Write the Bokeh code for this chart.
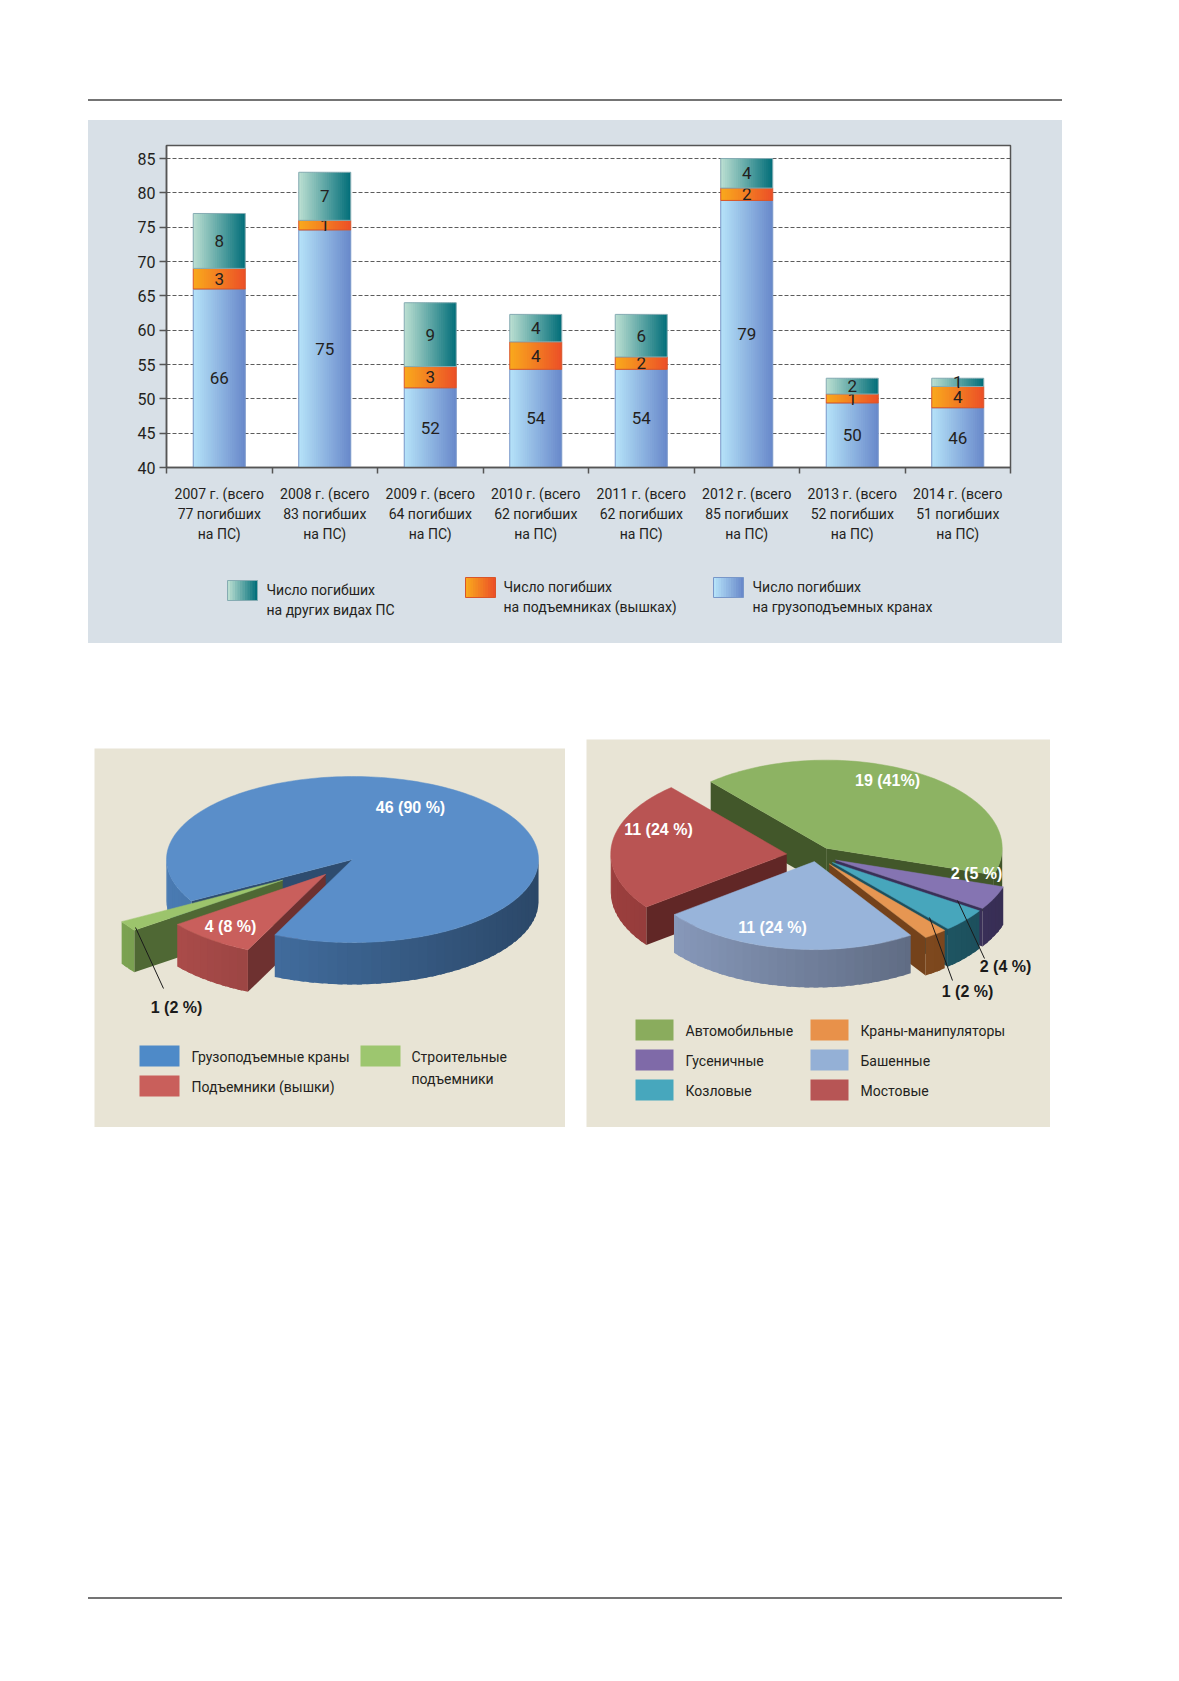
import numpy as np
from bokeh.plotting import figure
from bokeh.models import Range1d, FixedTicker, Div, Spacer
from bokeh.layouts import column, row
from bokeh.core.properties import value
from bokeh.embed import file_html
from bokeh.resources import INLINE

# ---------------- data: bar chart ----------------
years = ["2007", "2008", "2009", "2010", "2011", "2012", "2013", "2014"]
totals = [77, 83, 64, 62, 62, 85, 52, 51]
category_labels = [
    "2007 г. (всего\n77 погибших\nна ПС)",
    "2008 г. (всего\n83 погибших\nна ПС)",
    "2009 г. (всего\n64 погибших\nна ПС)",
    "2010 г. (всего\n62 погибших\nна ПС)",
    "2011 г. (всего\n62 погибших\nна ПС)",
    "2012 г. (всего\n85 погибших\nна ПС)",
    "2013 г. (всего\n52 погибших\nна ПС)",
    "2014 г. (всего\n51 погибших\nна ПС)",
]
# segment heights as drawn in the picture
cranes = [66.0, 74.6, 51.6, 54.3, 54.3, 78.9, 49.4, 48.7]
lifts = [3.0, 1.4, 3.1, 4.0, 1.8, 1.8, 1.3, 3.1]
other = [8.0, 7.0, 9.3, 4.0, 6.2, 4.3, 2.3, 1.2]
# numbers printed on the segments
cranes_text = ["66", "75", "52", "54", "54", "79", "50", "46"]
lifts_text = ["3", "1", "3", "4", "2", "2", "1", "4"]
other_text = ["8", "7", "9", "4", "6", "4", "2", "1"]
y_ticks = [40, 45, 50, 55, 60, 65, 70, 75, 80, 85]
bar_legend = [
    ["Число погибших", "на других видах ПС"],
    ["Число погибших", "на подъемниках (вышках)"],
    ["Число погибших", "на грузоподъемных кранах"],
]

# ---------------- data: pies ----------------
pie1_names = ["Грузоподъемные краны", "Подъемники (вышки)", "Строительные подъемники"]
pie1_values = [46, 4, 1]
pie1_text = ["46 (90 %)", "4 (8 %)", "1 (2 %)"]

pie2_names = ["Автомобильные", "Гусеничные", "Козловые",
              "Краны-манипуляторы", "Башенные", "Мостовые"]
pie2_values = [19, 2, 2, 1, 11, 11]
pie2_text = ["19 (41%)", "2 (5 %)", "2 (4 %)", "1 (2 %)", "11 (24 %)", "11 (24 %)"]

# ---------------- styles ----------------
NARROW = "Roboto"
BOLD = "Liberation Sans"
TXT = "#231f20"
BAR_PANEL = "#d8e0e7"
PIE_PANEL = "#e8e4d5"


def hex2rgb(h):
    return np.array([int(h[i:i + 2], 16) for i in (1, 3, 5)], float)


def rgb2hex(c):
    c = np.clip(np.round(c), 0, 255).astype(int)
    return "#%02x%02x%02x" % tuple(c)


def mix(a, b, t):
    return rgb2hex(hex2rgb(a) * (1 - t) + hex2rgb(b) * t)


def shade(h, f):
    return rgb2hex(hex2rgb(h) * f)


def gradient_quads(p, lefts, rights, bottoms, tops, c_left, c_right, n=24):
    L, R, B, T, C = [], [], [], [], []
    for l, r, b, t in zip(lefts, rights, bottoms, tops):
        w = (r - l) / n
        for j in range(n):
            L.append(l + j * w)
            R.append(l + (j + 1.6) * w if j < n - 1 else r)
            B.append(b)
            T.append(t)
            C.append(mix(c_left, c_right, j / (n - 1)))
    p.quad(left=L, right=R, bottom=B, top=T, fill_color=C, line_color=None)


# ---------------- bar chart ----------------
N = len(years)
xc = np.arange(N) + 0.5
BW = 0.493
Y0, Y1 = 40, 86.9
ML, MR = 78, 52

bar = figure(width=974, height=440, x_range=Range1d(0, N), y_range=Range1d(Y0, Y1),
             output_backend="svg", toolbar_location=None,
             min_border_left=ML, min_border_right=MR, min_border_top=25, min_border_bottom=93)
bar.background_fill_color = "white"
bar.border_fill_color = BAR_PANEL
bar.outline_line_color = "#555555"
bar.outline_line_width = 1.5
bar.xgrid.visible = False
bar.ygrid.ticker = FixedTicker(ticks=y_ticks)
bar.ygrid.grid_line_color = "#4a4a4a"
bar.ygrid.grid_line_dash = "4 2"
bar.ygrid.grid_line_width = 0.9

bar.yaxis.ticker = FixedTicker(ticks=y_ticks)
bar.yaxis.major_tick_out = 7
bar.yaxis.major_tick_in = 0
bar.yaxis.major_label_standoff = 4
bar.yaxis.major_label_text_font = NARROW
bar.yaxis.major_label_text_font_size = "16px"
bar.yaxis.major_label_text_color = TXT

bar.xaxis.ticker = FixedTicker(ticks=list(xc), minor_ticks=list(range(N + 1)))
bar.xaxis.major_tick_out = 0
bar.xaxis.major_tick_in = 0
bar.xaxis.minor_tick_out = 6
bar.xaxis.minor_tick_in = 0
bar.xaxis.major_label_overrides = {float(x): lab for x, lab in zip(xc, category_labels)}
bar.xaxis.major_label_standoff = 12
bar.xaxis.major_label_text_font = NARROW
bar.xaxis.major_label_text_font_size = "14px"
bar.xaxis.major_label_text_line_height = 1.28
bar.xaxis.major_label_text_color = TXT
for ax in (bar.xaxis, bar.yaxis):
    ax.axis_line_color = "#555555"
    ax.axis_line_width = 1.5
    ax.major_tick_line_color = "#555555"
    ax.major_tick_line_width = 1.5
    ax.minor_tick_line_color = "#555555"
    ax.minor_tick_line_width = 1.5
bar.yaxis.minor_tick_line_color = None

cr = np.array(cranes)
li = np.array(lifts)
ot = np.array(other)
segs = [
    (np.zeros(N), cr, "#b4e1f8", "#6a8acb", "#7897c9", cranes_text),
    (cr, cr + li, "#f9a81d", "#ec5127", "#d9552a", lifts_text),
    (cr + li, cr + li + ot, "#b8ddd0", "#05707b", "#86acb3", other_text),
]
for bot, top, c1, c2, edge, txt in segs:
    gradient_quads(bar, xc - BW / 2, xc + BW / 2, bot, top, c1, c2)
    bar.quad(left=xc - BW / 2, right=xc + BW / 2, bottom=bot, top=top,
             fill_alpha=0, line_color=edge, line_width=1)
    ymid = (np.maximum(bot, Y0) + top) / 2
    bar.text(x=xc, y=ymid, text=txt, text_font=value(NARROW), text_font_size="17px",
             text_align="center", text_baseline="middle", text_color=TXT)

# ---------------- bar legend strip ----------------
LH = 83
leg = figure(width=974, height=LH, x_range=Range1d(0, 974), y_range=Range1d(LH, 0),
             output_backend="svg", toolbar_location=None, x_axis_type=None, y_axis_type=None,
             min_border=0, min_border_left=0, min_border_right=0,
             min_border_top=0, min_border_bottom=0)
leg.grid.visible = False
leg.outline_line_color = None
leg.background_fill_color = BAR_PANEL
leg.border_fill_color = BAR_PANEL
sw_x = [139, 377, 625]
sw_y = [20, 17, 17]
txt_x = [178, 415, 664]
txt_y = [29, 26, 26]
grads = [("#b8ddd0", "#05707b", "#86acb3"), ("#f9a81d", "#ec5127", "#d9552a"),
         ("#b4e1f8", "#6a8acb", "#7897c9")]
for k in range(3):
    c1, c2, edge = grads[k]
    gradient_quads(leg, [sw_x[k]], [sw_x[k] + 30], [sw_y[k]], [sw_y[k] + 20], c1, c2, n=12)
    leg.quad(left=[sw_x[k]], right=[sw_x[k] + 30], bottom=[sw_y[k]], top=[sw_y[k] + 20],
             fill_alpha=0, line_color=edge, line_width=1)
    leg.text(x=[txt_x[k]] * 2, y=[txt_y[k], txt_y[k] + 20], text=bar_legend[k],
             text_font=value(NARROW), text_font_size="14px", text_align="left",
             text_baseline="middle", text_color=TXT)


# ---------------- 3D pies ----------------
def pie_fig(w, h):
    p = figure(width=w, height=h, x_range=Range1d(0, w), y_range=Range1d(h, 0),
               output_backend="svg", toolbar_location=None, x_axis_type=None,
               y_axis_type=None, min_border=0)
    p.grid.visible = False
    p.outline_line_color = None
    p.background_fill_color = PIE_PANEL
    p.border_fill_color = PIE_PANEL
    return p


def draw_pie3d(p, vals, tops, sides, start, explode, cx, cy, rx, ry, depth):
    total = float(sum(vals))
    walls, topf = [], []
    hi = start
    for v, ct, cs, ex in zip(vals, tops, sides, explode):
        span = v / total * 360.0
        lo = hi - span
        mid = np.radians((lo + hi) / 2)
        ccx = cx + ex * rx * np.cos(mid)
        ccy = cy - ex * ry * np.sin(mid)
        n = max(4, int(np.ceil(span / 1.5)) + 1)
        t = np.radians(np.linspace(lo, hi, n))
        px = ccx + rx * np.cos(t)
        py = ccy - ry * np.sin(t)
        topf.append((ccy, [ccx] + px.tolist(), [ccy] + py.tolist(), ct))
        for ang, nrm in ((lo, lo - 90), (hi, hi + 90)):
            if np.sin(np.radians(nrm)) < -1e-6:
                a = np.radians(ang)
                ex_ = ccx + rx * np.cos(a)
                ey_ = ccy - ry * np.sin(a)
                walls.append(((ccy + ey_) / 2 + depth / 2,
                              [ccx, ex_, ex_, ccx], [ccy, ey_, ey_ + depth, ccy + depth],
                              shade(cs, 0.62)))
        edges = np.linspace(lo, hi, max(2, int(np.ceil(span / 3)) + 1))
        for a0, a1 in zip(edges[:-1], edges[1:]):
            am = np.radians((a0 + a1) / 2)
            if np.sin(am) >= 0:
                continue
            r0 = np.radians(max(lo, a0 - 0.8))
            r1 = np.radians(min(hi, a1 + 0.8))
            x0, y0 = ccx + rx * np.cos(r0), ccy - ry * np.sin(r0)
            x1, y1 = ccx + rx * np.cos(r1), ccy - ry * np.sin(r1)
            f = 1.0 - 0.42 * (1 + np.cos(am)) / 2
            walls.append((ccy - ry * np.sin(am) + depth / 2,
                          [x0, x1, x1, x0], [y0, y1, y1 + depth, y0 + depth], shade(cs, f)))
        hi = lo
    walls.sort(key=lambda w: w[0])
    topf.sort(key=lambda w: w[0])
    p.patches(xs=[w[1] for w in walls], ys=[w[2] for w in walls],
              fill_color=[w[3] for w in walls], line_color=None)
    p.patches(xs=[w[1] for w in topf], ys=[w[2] for w in topf],
              fill_color=[w[3] for w in topf], line_color=[w[3] for w in topf], line_width=0.5)


# pie 1
p1 = pie_fig(471, 379)
pie1_top = ["#5a8ec9", "#c95f5c", "#9cc46c"]
pie1_side = ["#4a7bb3", "#b24f4d", "#7fa754"]
draw_pie3d(p1, pie1_values, pie1_top, pie1_side, 210, [0.0, 0.23, 0.45], 258, 111, 186, 83, 42)
p1_lab_xy = [(316, 59), (136, 178), (82, 259)]
p1_lab_col = ["white", "white", "#1a1a1a"]
p1.segment(x0=[69], y0=[240], x1=[41], y1=[179], line_color="#1a1a1a", line_width=1)
p1.text(x=[a for a, b in p1_lab_xy], y=[b for a, b in p1_lab_xy], text=pie1_text,
        text_font=value(BOLD), text_font_style="bold", text_font_size="16px",
        text_align="center", text_baseline="middle", text_color=p1_lab_col)
p1_leg_col = ["#4e8ac8", "#c95f5b", "#9dc66f"]
p1_sw = [(45, 297), (45, 327), (266, 297)]
p1.quad(left=[a for a, b in p1_sw], right=[a + 40 for a, b in p1_sw],
        top=[b for a, b in p1_sw], bottom=[b + 21 for a, b in p1_sw],
        fill_color=p1_leg_col, line_color=None)
p1.text(x=[97, 97, 317, 317], y=[308, 338, 308, 330],
        text=[pie1_names[0], pie1_names[1]] + pie1_names[2].split(" "),
        text_font=value(NARROW), text_font_size="14px", text_align="left",
        text_baseline="middle", text_color=TXT)

# pie 2
p2 = pie_fig(464, 388)
pie2_top = ["#8db363", "#8574b2", "#47a6bc", "#e69652", "#98b4da", "#b95453"]
pie2_side = ["#6a8d44", "#5d4d8e", "#2e8196", "#bb6b2c", "#8d9fc2", "#9c3f3e"]
draw_pie3d(p2, pie2_values, pie2_top, pie2_side, 131,
           [0.10, 0.12, 0.12, 0.12, 0.07, 0.17], 230, 116, 176, 88, 38)
p2_lab_xy = [(301, 41), (390, 134), (419, 227), (381, 252), (186, 188), (72, 90)]
p2_lab_col = ["white", "white", "#1a1a1a", "#1a1a1a", "white", "white"]
p2.segment(x0=[398, 366], y0=[219, 241], x1=[371, 343], y1=[161, 178],
           line_color="#1a1a1a", line_width=1)
p2.text(x=[a for a, b in p2_lab_xy], y=[b for a, b in p2_lab_xy], text=pie2_text,
        text_font=value(BOLD), text_font_style="bold", text_font_size="16px",
        text_align="center", text_baseline="middle", text_color=p2_lab_col)
p2_leg_col = ["#8aac5d", "#7f6aa8", "#47a7bd", "#e8914a", "#94b0d6", "#b75555"]
col_x = [49, 49, 49, 224, 224, 224]
row_y = [280, 310, 340, 280, 310, 340]
p2.quad(left=col_x, right=[x + 38 for x in col_x], top=row_y, bottom=[y + 21 for y in row_y],
        fill_color=p2_leg_col, line_color=None)
p2.text(x=[x + 50 for x in col_x], y=[y + 11 for y in row_y], text=pie2_names,
        text_font=value(NARROW), text_font_size="14px", text_align="left",
        text_baseline="middle", text_color=TXT)


# ---------------- page layout ----------------
def hline():
    return Div(text="", width=974, height=2, margin=0,
               styles={"background-color": "#747474"})


def sp(w=1, h=1):
    return Spacer(width=w, height=h, margin=0)


bar_block = column(row(bar), row(leg), styles={"background-color": BAR_PANEL})

page = column(
    sp(10, 99),
    row(sp(88, 2), hline()),
    sp(10, 19),
    row(sp(88, 10), bar_block),
    sp(10, 96),
    row(sp(94, 10), column(sp(10, 9), p1), sp(21, 10), p2),
    sp(10, 470),
    row(sp(88, 2), hline()),
)

open("out.html", "w").write(file_html(page, INLINE))
